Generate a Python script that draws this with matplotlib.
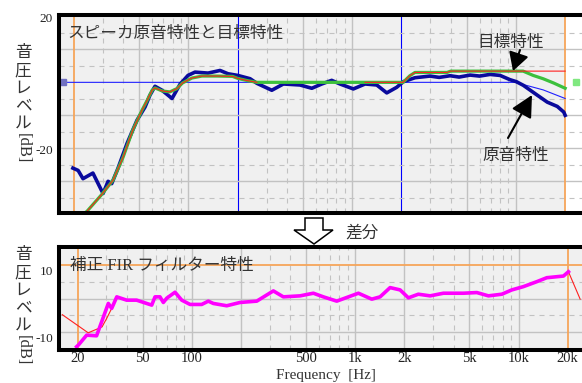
import numpy as np
import matplotlib
matplotlib.use("Agg")
import matplotlib.pyplot as plt
from matplotlib import transforms
from matplotlib.patches import Polygon

W, H = 582, 383
JP = "Noto Sans CJK JP"
SERIF = ["Liberation Serif", "Noto Sans CJK JP"]

# スピーカ原音特性 (navy)
raw_freq = [19.7, 21.2, 22.7, 26.1, 30.1, 32.3, 34.0, 37.1, 42.2, 48.5, 54.3, 58.2,
            62.5, 69.0, 79.4, 88.8, 99.4, 109.7, 131.7, 156, 174.5, 200, 238, 262,
            323, 380, 480, 567, 652, 750, 843, 1017, 1199, 1413, 1627, 1872, 2054,
            2421, 2991, 3400, 3965, 4500, 5250, 6000, 6950, 8000, 9208, 10070,
            11100, 13520, 15550, 17900, 19600, 20000]
raw_db = [-26.0, -26.7, -29.2, -27.5, -33.7, -30.0, -30.7, -26.1, -18.5, -11.5, -7.5, -3.9,
          -1.2, -2.4, -4.9, -0.6, 2.1, 3.1, 2.8, 3.6, 2.6, 2.1, 1.1, -0.3,
          -2.4, -0.5, -0.8, -1.8, -0.5, 0.6, -0.5, -2.0, -0.5, -0.8, -3.2, -1.5, 0.2,
          1.4, 1.9, 1.5, 2.0, 1.6, 2.2, 1.9, 2.4, 2.1, 0.8, 0.2,
          -0.9, -3.9, -6.0, -7.3, -9.0, -10.0]

# 目標特性 (green)
target_freq = [21.8, 24.0, 29.3, 34.6, 39.9, 45.7, 52.0, 55.9, 60.0, 62.5, 69.0, 77.0,
               85.0, 92.0, 105, 121, 150, 186, 200, 230, 262, 2046, 2250, 2420, 3800,
               4000, 11070, 12740, 14660, 17000, 20000]
target_db = [-40.6, -39.1, -34.2, -29.7, -22.7, -14.5, -8.5, -5.5, -2.4, -1.7, -2.6, -2.9,
             -1.9, -0.2, 1.3, 1.9, 1.9, 1.8, 1.2, 0.5, 0.0, 0.0, 2.0, 3.0, 3.0,
             3.4, 3.4, 2.1, 1.1, -0.2, -1.8]

# thin red target (no roll-off)
red_freq = target_freq[:21] + [np.nan, 1200, 2046, 2250, 2420, 3800, 4000, 20000]
red_db = target_db[:21] + [np.nan, 0.0, 0.0, 2.0, 3.0, 3.0, 3.4, 3.4]

# thin blue reference
flat_freq = [17.1, 9900, 14700, 20000]
flat_db = [0.0, 0.0, -2.3, -4.9]
handle_l = (17.1, 0.0)
handle_r = (23400, 0.0)

# 補正 FIR フィルター特性 (magenta)
fir_freq = [19.7, 20.2, 22.7, 26.1, 30.8, 32.3, 34.7, 39.9, 45.9, 52.9, 56.8, 59.5,
            63.8, 66.9, 70.2, 78.9, 86.7, 97.5, 114.9, 126.1, 135.3, 163.5, 197.2,
            249.6, 315.4, 363, 459.6, 554.3, 638.3, 771, 1046, 1263, 1420, 1635, 1883,
            2116, 2435, 2875, 3467, 4596, 5552, 6539, 7899, 9093, 10710, 12935, 14895,
            18830, 20200]
fir_db = [-14.6, -14.1, -11.1, -11.3, -1.5, -3.0, 0.5, -0.5, -0.5, -1.5, -2.0, 0.5,
          0.5, -1.2, 0.1, 1.9, -0.5, -1.8, -1.8, -0.8, -1.5, -2.2, -1.2,
          -0.8, 2.3, 0.5, 0.8, 1.6, 0.5, -0.8, 1.6, -0.2, 0.5, 3.3, 2.6,
          0.2, 1.3, 0.8, 1.6, 1.6, 1.8, 0.8, 1.3, 2.6, 3.6, 5.1, 6.3,
          6.8, 8.1]
fir_low_freq = [16.1, 23.2, 28.2, 30.2]
fir_low_db = [-4.9, -10.4, -8.6, -5.9]
fir_high_freq = [23830]
fir_high_db = [-0.2]

minor_f = [30, 40, 60, 70, 80, 90, 300, 400, 600, 700, 800, 900,
           3000, 4000, 6000, 7000, 8000, 9000]
major_f = [50, 100, 500, 1000, 5000, 10000]
mid_f = [200, 2000]
edge_f = [20, 20000]
xt_vals = [20, 50, 100, 500, 1000, 2000, 5000, 10000, 20000]
xt_labels = ["20", "50", "100", "500", "1k", "2k", "5k", "10k", "20k"]

GRID = "#c2c2c2"
ORANGE = "#f6a55a"
BG = "#f0f0f0"


def box(left, top, right, bottom):
    return [left / W, 1 - bottom / H, (right - left) / W, (bottom - top) / H]


def fp(x, y):
    return (x / W, 1 - y / H)


def grid(ax, hmaj, hmin, vmid_color):
    for f in minor_f:
        ax.axvline(f, color=GRID, lw=0.8, ls=(0, (4.5, 4.5)), zorder=1)
    for f in major_f:
        ax.axvline(f, color=GRID, lw=1.0, zorder=1)
    for f in mid_f:
        ax.axvline(f, color=vmid_color, lw=1.0 if vmid_color == GRID else 0.8, zorder=1)
    for v in hmin:
        ax.axhline(v, color=GRID, lw=0.8, ls=(0, (4.5, 4.5)), zorder=1)
    for v in hmaj:
        ax.axhline(v, color=GRID, lw=1.0, zorder=1)
    for f in edge_f:
        ax.axvline(f, color=ORANGE, lw=1.3, zorder=2)


def frame(ax):
    for s in ["top", "left", "bottom"]:
        ax.spines[s].set_linewidth(2.9)
        ax.spines[s].set_color("black")
        ax.spines[s].set_zorder(10)
    ax.spines["right"].set_visible(False)
    ax.tick_params(length=0)
    ax.set_xticks([])
    ax.set_yticks([])
    ax.minorticks_off()


def ylabels(ax, vals, labels, dy):
    tr = transforms.blended_transform_factory(ax.transAxes, ax.transData)
    tr = tr + transforms.ScaledTranslation(-0.06, -dy / 100, fig.dpi_scale_trans)
    for v, s in zip(vals, labels):
        ax.text(0, v, s, transform=tr, ha="right", va="center",
                family=SERIF, fontsize=9.5, color="#222222")


def vlabel(x, ys, y_db):
    for ch, y in zip("音圧レベル", ys):
        fig.text(*fp(x, y), ch, family=JP, fontsize=12, ha="center", va="center",
                 color="#333333")
    fig.text(*fp(x, y_db), "[dB]", family=SERIF, fontsize=12, rotation=-90,
             ha="center", va="center", color="#333333")


fig = plt.figure(figsize=(W / 100, H / 100), dpi=100)

# --- top panel ---
ax1 = fig.add_axes(box(59, 14.7, 594, 213))
ax1.set_xscale("log")
ax1.set_xlim(16.2, 30000)
ax1.set_ylim(-39.6, 20.5)
ax1.set_facecolor("white")
ax1.axvspan(16.2, 20000, color=BG, zorder=0, lw=0)
grid(ax1, [10, -10, -20, -30], [15, 5, -5, -15, -25, -35], "#0000ff")
frame(ax1)
ax1.plot(flat_freq, flat_db, color="#2020ff", lw=0.8, zorder=3)
ax1.plot(raw_freq, raw_db, color="#0a0a9c", lw=2.6, zorder=4, solid_joinstyle="round")
ax1.plot(target_freq, target_db, color="#3cc03c", lw=2.3, zorder=5)
ax1.plot(red_freq, red_db, color="#ff2020", lw=0.8, zorder=6)
ax1.plot(*handle_l, marker="s", ms=4.5, color="#7070c0", zorder=7, clip_on=False)
ax1.plot(*handle_r, marker="s", ms=5, color="#80e880", zorder=7, clip_on=False)
ylabels(ax1, [20, -20], ["20", "-20"], 3)

# --- bottom panel ---
ax2 = fig.add_axes(box(59, 247, 596.5, 350))
ax2.set_xscale("log")
ax2.set_xlim(15.37, 30000)
ax2.set_ylim(-15.6, 15.6)
ax2.set_facecolor(BG)
grid(ax2, [0, -10], [5, -5], GRID)
ax2.axhline(10, color=ORANGE, lw=1.3, zorder=2)
frame(ax2)
ax2.plot(fir_low_freq + fir_freq[5:] + fir_high_freq,
         fir_low_db + fir_db[5:] + fir_high_db, color="#ff2020", lw=0.8, zorder=3)
ax2.plot(fir_freq, fir_db, color="#ff00ff", lw=2.6, zorder=4)
ylabels(ax2, [10, -10], ["10", "-10"], 7)
for f, s in zip(xt_vals, xt_labels):
    ax2.text(f, 0, s, transform=transforms.blended_transform_factory(ax2.transData, ax2.transAxes)
             + transforms.ScaledTranslation(0, -0.025, fig.dpi_scale_trans),
             ha="center", va="top", family=SERIF, fontsize=10.5, color="#222222")

# texts
fig.text(*fp(67, 33), "スピーカ原音特性と目標特性", family=JP, fontsize=12,
         va="center", ha="left", color="#333333")
fig.text(*fp(70, 266), "補正 FIR フィルター特性", family=SERIF, fontsize=12,
         va="center", ha="left", color="#333333")
fig.text(*fp(345, 233), "差分", family=JP, fontsize=12, va="center", ha="left",
         color="#333333")
fig.text(*fp(326, 375), "Frequency  [Hz]", family="Liberation Serif", fontsize=11,
         va="center", ha="center", color="#333333")
vlabel(23, [53, 71, 88, 106, 123], 148)
vlabel(23, [255, 273, 290, 308, 325], 350)

# annotations
fig.text(*fp(511, 42), "目標特性", family=JP, fontsize=12, ha="center", va="center",
         color="#333333")
fig.text(*fp(516, 155), "原音特性", family=JP, fontsize=12, ha="center", va="center",
         color="#333333")
fig.add_artist(matplotlib.patches.FancyArrowPatch(
    fp(520, 50), fp(513, 71), transform=fig.transFigure,
    arrowstyle="-|>,head_length=0.5,head_width=0.28", mutation_scale=22,
    color="black", lw=1.5, shrinkA=0, shrinkB=0))
fig.add_artist(matplotlib.patches.FancyArrowPatch(
    fp(508, 138), fp(532, 95), transform=fig.transFigure,
    arrowstyle="-|>,head_length=0.55,head_width=0.28", mutation_scale=24,
    color="black", lw=1.5, shrinkA=0, shrinkB=0))

# hollow down arrow
arrow_pts = [fp(305, 218), fp(323, 218), fp(323, 230), fp(333, 230), fp(314, 244),
             fp(294, 230), fp(305, 230)]
fig.add_artist(Polygon(arrow_pts, closed=True, fill=False, edgecolor="black", lw=1.1,
                       transform=fig.transFigure))

fig.savefig("out.png", dpi=100)
